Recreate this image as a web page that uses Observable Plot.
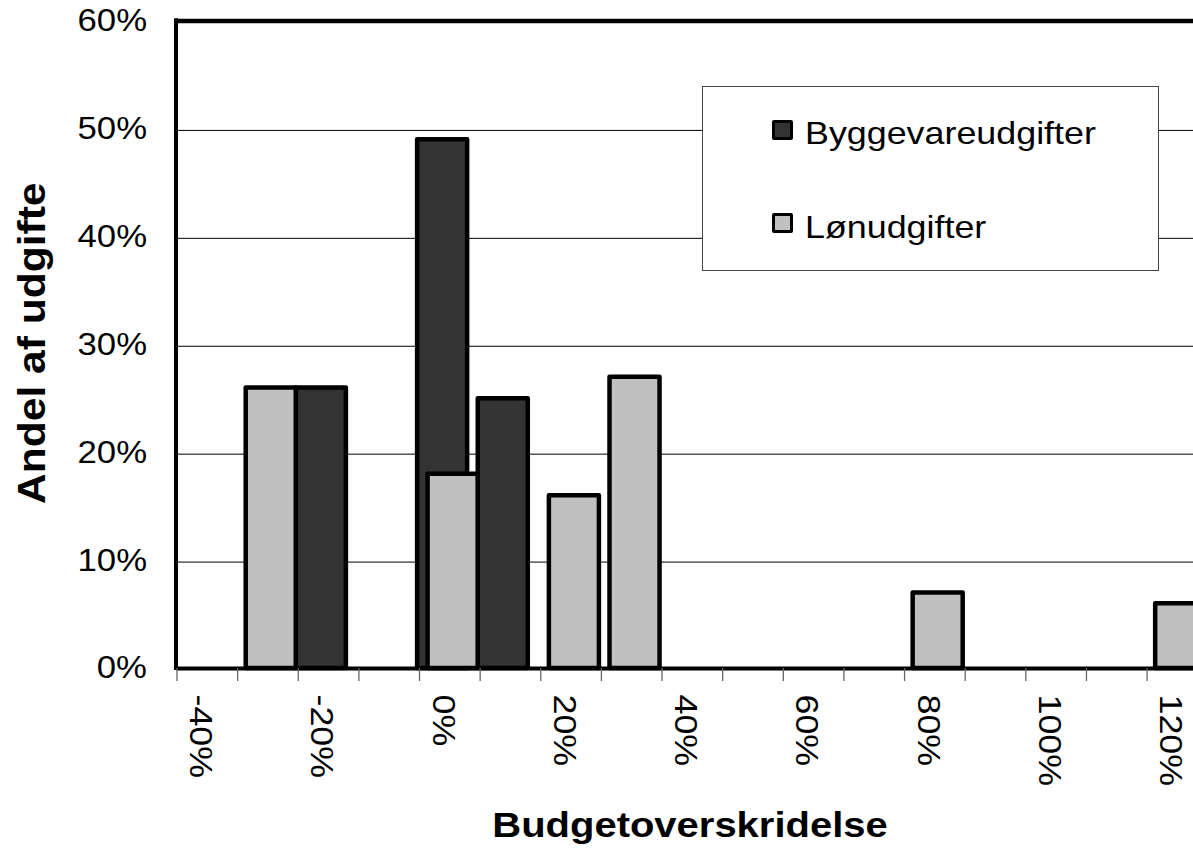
<!DOCTYPE html>
<html>
<head>
<meta charset="utf-8">
<script src="https://cdn.jsdelivr.net/npm/d3@7"></script>
<script src="https://cdn.jsdelivr.net/npm/@observablehq/plot@0.6"></script>
<style>
  html, body { margin: 0; padding: 0; background: #fff; overflow: hidden; }
  #wrap { position: relative; width: 1193px; height: 849px; overflow: hidden;
          font-family: "Liberation Sans", Arial, sans-serif; }
  #legend { position: absolute; left: 701.5px; top: 85.5px; width: 457px; height: 185px;
            box-sizing: border-box; border: 1.3px solid #444; background: #fff; }
  .swatch { position: absolute; left: 69.7px; width: 20.6px; height: 20.6px; box-sizing: border-box;
            border: 3px solid #000; border-radius: 2px; }
  .label { position: absolute; left: 102px; font-size: 32px; line-height: 32px; white-space: nowrap;
           color: #000; transform: scaleX(1.12); transform-origin: 0 0; }
</style>
</head>
<body>
<div id="wrap"></div>
<script>
// ---- data ----
const categories = [-40, -30, -20, -10, 0, 10, 20, 30, 40, 50, 60, 70, 80, 90, 100, 110, 120]; // budget overrun, %
const byggevareudgifter = [0, 0, 26, 0, 49, 25, 0, 0, 0, 0, 0, 0, 0, 0, 0, 0, 0];            // share, %
const loenudgifter      = [0, 26, 0, 0, 18, 0, 16, 27, 0, 0, 0, 0, 7, 0, 0, 0, 6];            // share, %
const xTickLabels = [-40, -20, 0, 20, 40, 60, 80, 100, 120];
const yTicks = [0, 10, 20, 30, 40, 50, 60];
const seriesNames = ["Byggevareudgifter", "Lønudgifter"];
const seriesColors = ["#333333", "#c0c0c0"];
const xTitle = "Budgetoverskridelse";
const yTitle = "Andel af udgifte";

const step = categories[1] - categories[0];
const rows = categories.flatMap((c, i) => [
  {cat: c, serie: seriesNames[0], v: byggevareudgifter[i]},
  {cat: c, serie: seriesNames[1], v: loenudgifter[i]}
]).filter(d => d.v > 0);
const edges = categories.map(c => c - step / 2);

const FONT = '"Liberation Sans", Arial, sans-serif';
const bandPx = 60.63;
const left = 176.5;

const barOpts = (dx) => ({
  x1: d => d.cat - step / 2,
  x2: d => d.cat + step / 2,
  y: "v",
  fill: "serie",
  stroke: "#000",
  strokeWidth: 4.5,
  strokeLinejoin: "round",
  insetLeft: 5.3,
  insetRight: 5.3,
  dx
});

const plot = Plot.plot({
  width: 1193,
  height: 849,
  marginLeft: left,
  marginRight: 0,
  marginTop: 20.5,
  marginBottom: 181,
  style: {fontFamily: FONT, fontSize: "31px", color: "#000", background: "#fff", overflow: "hidden"},
  x: {type: "linear", domain: [edges[0], categories[categories.length - 1] + step / 2],
      range: [left, left + categories.length * bandPx]},
  y: {domain: [0, 60], axis: null},
  color: {domain: seriesNames, range: seriesColors},
  marks: [
    // gridlines
    Plot.ruleY(yTicks.filter(t => t > 0 && t < 60), {stroke: "#000", strokeWidth: 1, dy: 1.5}),
    // bars
    Plot.rectY(rows.filter(d => d.serie === seriesNames[0]), barOpts(-7.2)),
    Plot.rectY(rows.filter(d => d.serie === seriesNames[1]), barOpts(3.3)),
    // plot-area border / axes lines
    Plot.ruleY([0], {stroke: "#000", strokeWidth: 4}),
    Plot.ruleY([60], {stroke: "#000", strokeWidth: 4.4}),
    Plot.ruleX([edges[0]], {stroke: "#000", strokeWidth: 4, dx: -1, insetTop: -2.2, insetBottom: -2}),
    // x tick marks between categories
    Plot.axisX(edges, {anchor: "bottom", tickSize: 13, tickFormat: () => "", stroke: "#666",
                       strokeWidth: 1.3, label: null}),
    // x tick labels (rotated)
    Plot.text(xTickLabels, {x: d => d, text: d => `${d}%`, frameAnchor: "bottom", rotate: 90,
                            textAnchor: "start", lineAnchor: "middle", dy: 26, dx: -7,
                            fontSize: 32, fill: "#000"}),
    // y tick labels
    Plot.text(yTicks, {y: d => d, text: d => `${d}%`, frameAnchor: "left", textAnchor: "end",
                       lineAnchor: "middle", dx: -30, fontSize: 31, fill: "#000"}),
    // axis titles
    Plot.text([yTitle], {frameAnchor: "left", rotate: -90, textAnchor: "middle", lineAnchor: "middle",
                         dx: -144, dy: -1.5, fontSize: 38, fontWeight: "bold", fill: "#000"}),
    Plot.text([xTitle], {frameAnchor: "bottom", textAnchor: "middle", lineAnchor: "middle",
                         dx: 4.75, dy: 156.6, fontSize: 35.7, fontWeight: "bold", fill: "#000"})
  ]
});

const wrap = document.getElementById("wrap");
wrap.append(plot);

// widen glyphs like the original rendering
d3.select(plot).selectAll("text").each(function () {
  if (!this.textContent) return;
  const L = this.getComputedTextLength();
  if (L > 0) {
    this.setAttribute("textLength", (L * 1.12).toFixed(2));
    this.setAttribute("lengthAdjust", "spacingAndGlyphs");
  }
});

// legend box (inside plot area)
const legend = document.createElement("div");
legend.id = "legend";
const swatchTops = [33, 126.3];
const labelTops = [30, 124.2];
seriesNames.forEach((name, i) => {
  const sw = document.createElement("div");
  sw.className = "swatch";
  sw.style.top = swatchTops[i] + "px";
  sw.style.background = seriesColors[i];
  const lb = document.createElement("div");
  lb.className = "label";
  lb.style.top = labelTops[i] + "px";
  lb.textContent = name;
  legend.append(sw, lb);
});
wrap.append(legend);
</script>
</body>
</html>
